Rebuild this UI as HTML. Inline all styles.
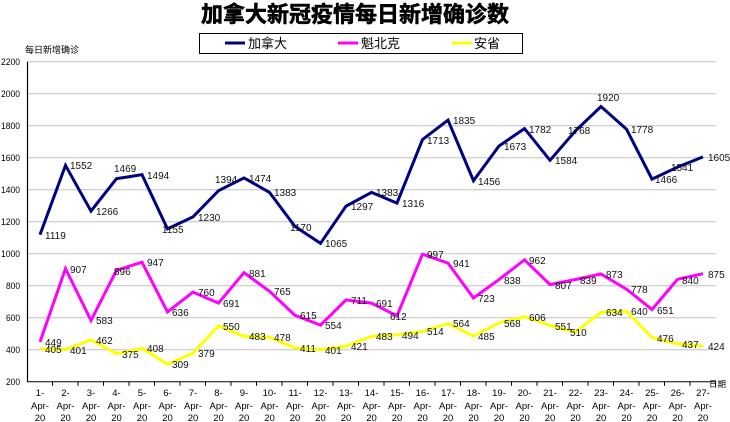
<!DOCTYPE html>
<html><head><meta charset="utf-8"><style>
html,body{margin:0;padding:0;background:#fff;}
svg{display:block;font-family:"Liberation Sans","Noto Sans CJK SC",sans-serif;}
</style></head><body>
<svg width="730" height="422" viewBox="0 0 730 422" xmlns="http://www.w3.org/2000/svg">
<text x="355" y="22" text-anchor="middle" font-size="22" font-weight="bold" stroke="#000" stroke-width="0.6" font-family="'Liberation Sans','Noto Sans CJK SC',sans-serif">加拿大新冠疫情每日新增确诊数</text>
<rect x="199.5" y="33.5" width="323" height="20" fill="#fff" stroke="#000" stroke-width="1"/>
<line x1="225" y1="43" x2="245" y2="43" stroke="#000080" stroke-width="3"/>
<text x="248" y="48" font-size="13">加拿大</text>
<line x1="338" y1="43" x2="358" y2="43" stroke="#ff00ff" stroke-width="3"/>
<text x="361" y="48" font-size="13">魁北克</text>
<line x1="452" y1="43" x2="472" y2="43" stroke="#ffff00" stroke-width="3"/>
<text x="474" y="48" font-size="13">安省</text>
<text x="25" y="53" font-size="9">每日新增确诊</text>
<g stroke="#c0c0c0" stroke-width="1">
<line x1="27" y1="61.7" x2="715.5" y2="61.7"/><line x1="27" y1="93.7" x2="715.5" y2="93.7"/><line x1="27" y1="125.7" x2="715.5" y2="125.7"/><line x1="27" y1="157.7" x2="715.5" y2="157.7"/><line x1="27" y1="189.7" x2="715.5" y2="189.7"/><line x1="27" y1="221.7" x2="715.5" y2="221.7"/><line x1="27" y1="253.7" x2="715.5" y2="253.7"/><line x1="27" y1="285.7" x2="715.5" y2="285.7"/><line x1="27" y1="317.7" x2="715.5" y2="317.7"/><line x1="27" y1="349.7" x2="715.5" y2="349.7"/>
</g>
<g font-size="9.5">
<text x="1" y="65" textLength="19" lengthAdjust="spacingAndGlyphs">2200</text><text x="1" y="97" textLength="19" lengthAdjust="spacingAndGlyphs">2000</text><text x="1" y="129" textLength="19" lengthAdjust="spacingAndGlyphs">1800</text><text x="1" y="161" textLength="19" lengthAdjust="spacingAndGlyphs">1600</text><text x="1" y="193" textLength="19" lengthAdjust="spacingAndGlyphs">1400</text><text x="1" y="225" textLength="19" lengthAdjust="spacingAndGlyphs">1200</text><text x="1" y="257" textLength="19" lengthAdjust="spacingAndGlyphs">1000</text><text x="6" y="289" textLength="14" lengthAdjust="spacingAndGlyphs">800</text><text x="6" y="321" textLength="14" lengthAdjust="spacingAndGlyphs">600</text><text x="6" y="353" textLength="14" lengthAdjust="spacingAndGlyphs">400</text><text x="6" y="385" textLength="14" lengthAdjust="spacingAndGlyphs">200</text>
</g>
<line x1="27.5" y1="61.7" x2="27.5" y2="382" stroke="#000" stroke-width="1.2"/>
<line x1="27" y1="381.7" x2="715.5" y2="381.7" stroke="#000" stroke-width="1"/>
<path stroke="#000" stroke-width="1" d="M52.5 381.7v4M78 381.7v4M103.5 381.7v4M129 381.7v4M154.5 381.7v4M180 381.7v4M205.5 381.7v4M231 381.7v4M256.5 381.7v4M282 381.7v4M307.5 381.7v4M333 381.7v4M358.5 381.7v4M384 381.7v4M409.5 381.7v4M435 381.7v4M460.5 381.7v4M486 381.7v4M511.5 381.7v4M537 381.7v4M562.5 381.7v4M588 381.7v4M613.5 381.7v4M639 381.7v4M664.5 381.7v4M690 381.7v4M715.5 381.7v4"/>
<text x="709" y="387" font-size="8.5">日期</text>
<g font-size="9.5" text-anchor="middle">
<text x="40" y="396">1-</text><text x="40" y="409">Apr-</text><text x="40" y="421">20</text>
<text x="65.5" y="396">2-</text><text x="65.5" y="409">Apr-</text><text x="65.5" y="421">20</text>
<text x="91" y="396">3-</text><text x="91" y="409">Apr-</text><text x="91" y="421">20</text>
<text x="116.5" y="396">4-</text><text x="116.5" y="409">Apr-</text><text x="116.5" y="421">20</text>
<text x="142" y="396">5-</text><text x="142" y="409">Apr-</text><text x="142" y="421">20</text>
<text x="167.5" y="396">6-</text><text x="167.5" y="409">Apr-</text><text x="167.5" y="421">20</text>
<text x="193" y="396">7-</text><text x="193" y="409">Apr-</text><text x="193" y="421">20</text>
<text x="218.5" y="396">8-</text><text x="218.5" y="409">Apr-</text><text x="218.5" y="421">20</text>
<text x="244" y="396">9-</text><text x="244" y="409">Apr-</text><text x="244" y="421">20</text>
<text x="269.5" y="396">10-</text><text x="269.5" y="409">Apr-</text><text x="269.5" y="421">20</text>
<text x="295" y="396">11-</text><text x="295" y="409">Apr-</text><text x="295" y="421">20</text>
<text x="320.5" y="396">12-</text><text x="320.5" y="409">Apr-</text><text x="320.5" y="421">20</text>
<text x="346" y="396">13-</text><text x="346" y="409">Apr-</text><text x="346" y="421">20</text>
<text x="371.5" y="396">14-</text><text x="371.5" y="409">Apr-</text><text x="371.5" y="421">20</text>
<text x="397" y="396">15-</text><text x="397" y="409">Apr-</text><text x="397" y="421">20</text>
<text x="422.5" y="396">16-</text><text x="422.5" y="409">Apr-</text><text x="422.5" y="421">20</text>
<text x="448" y="396">17-</text><text x="448" y="409">Apr-</text><text x="448" y="421">20</text>
<text x="473.5" y="396">18-</text><text x="473.5" y="409">Apr-</text><text x="473.5" y="421">20</text>
<text x="499" y="396">19-</text><text x="499" y="409">Apr-</text><text x="499" y="421">20</text>
<text x="524.5" y="396">20-</text><text x="524.5" y="409">Apr-</text><text x="524.5" y="421">20</text>
<text x="550" y="396">21-</text><text x="550" y="409">Apr-</text><text x="550" y="421">20</text>
<text x="575.5" y="396">22-</text><text x="575.5" y="409">Apr-</text><text x="575.5" y="421">20</text>
<text x="601" y="396">23-</text><text x="601" y="409">Apr-</text><text x="601" y="421">20</text>
<text x="626.5" y="396">24-</text><text x="626.5" y="409">Apr-</text><text x="626.5" y="421">20</text>
<text x="652" y="396">25-</text><text x="652" y="409">Apr-</text><text x="652" y="421">20</text>
<text x="677.5" y="396">26-</text><text x="677.5" y="409">Apr-</text><text x="677.5" y="421">20</text>
<text x="703" y="396">27-</text><text x="703" y="409">Apr-</text><text x="703" y="421">20</text>
</g>
<g fill="none" stroke-width="3" stroke-linejoin="miter">
<polyline stroke="#000080" points="40,234.7 65.5,165.4 91,211.1 116.5,178.7 142,174.7 167.5,228.9 193,216.9 218.5,190.7 244,177.9 269.5,192.4 295,226.5 320.5,243.3 346,206.2 371.5,192.4 397,203.1 422.5,139.6 448,120.1 473.5,180.7 499,146 524.5,128.6 550,160.3 575.5,130.8 601,106.5 626.5,129.2 652,179.1 677.5,167.1 703,156.9"/>
<polyline stroke="#ff00ff" points="40,341.9 65.5,268.6 91,320.4 116.5,270.3 142,262.2 167.5,311.9 193,292.1 218.5,303.1 244,272.7 269.5,291.3 295,315.3 320.5,325.1 346,299.9 371.5,303.1 397,315.8 422.5,254.2 448,263.1 473.5,298 499,279.6 524.5,259.8 550,284.6 575.5,279.5 601,274 626.5,289.2 652,309.5 677.5,279.3 703,273.7"/>
<polyline stroke="#ffff00" points="40,348.9 65.5,349.5 91,339.8 116.5,353.7 142,348.4 167.5,364.3 193,353.1 218.5,325.7 244,336.4 269.5,337.2 295,347.9 320.5,349.5 346,346.3 371.5,336.4 397,334.7 422.5,331.5 448,323.5 473.5,336.1 499,322.8 524.5,316.7 550,325.5 575.5,332.1 601,312.3 626.5,311.3 652,337.5 677.5,343.8 703,345.9"/>
</g>
<g font-size="10" fill="#111">
<text x="45" y="239">1119</text><text x="70" y="169">1552</text><text x="96" y="215">1266</text><text x="114" y="172">1469</text><text x="147" y="179">1494</text><text x="162" y="233">1155</text><text x="198" y="221">1230</text><text x="215" y="183">1394</text><text x="249" y="182">1474</text><text x="274" y="196">1383</text><text x="290" y="231">1170</text><text x="325" y="247">1065</text><text x="351" y="210">1297</text><text x="376" y="196">1383</text><text x="402" y="207">1316</text><text x="427" y="144">1713</text><text x="453" y="124">1835</text><text x="478" y="185">1456</text><text x="504" y="150">1673</text><text x="529" y="133">1782</text><text x="555" y="164">1584</text><text x="568" y="134">1768</text><text x="597" y="101">1920</text><text x="631" y="133">1778</text><text x="655" y="183">1466</text><text x="671" y="171">1541</text><text x="708" y="161">1605</text>
<text x="45" y="346">449</text><text x="70" y="273">907</text><text x="96" y="324">583</text><text x="114" y="275">896</text><text x="147" y="266">947</text><text x="172" y="316">636</text><text x="198" y="296">760</text><text x="223" y="307">691</text><text x="249" y="277">881</text><text x="274" y="295">765</text><text x="300" y="319">615</text><text x="325" y="329">554</text><text x="351" y="304">711</text><text x="376" y="307">691</text><text x="390" y="320">612</text><text x="427" y="258">997</text><text x="453" y="267">941</text><text x="478" y="302">723</text><text x="504" y="284">838</text><text x="529" y="264">962</text><text x="555" y="289">807</text><text x="580" y="284">839</text><text x="606" y="278">873</text><text x="631" y="293">778</text><text x="657" y="314">651</text><text x="682" y="284">840</text><text x="708" y="278">875</text>
<text x="45" y="353">405</text><text x="70" y="354">401</text><text x="96" y="344">462</text><text x="122" y="358">375</text><text x="147" y="352">408</text><text x="172" y="368">309</text><text x="198" y="357">379</text><text x="223" y="330">550</text><text x="249" y="340">483</text><text x="274" y="341">478</text><text x="300" y="352">411</text><text x="325" y="354">401</text><text x="351" y="350">421</text><text x="376" y="340">483</text><text x="402" y="339">494</text><text x="427" y="335">514</text><text x="453" y="327">564</text><text x="478" y="340">485</text><text x="504" y="327">568</text><text x="529" y="321">606</text><text x="555" y="330">551</text><text x="570" y="336">510</text><text x="606" y="316">634</text><text x="631" y="315">640</text><text x="657" y="342">476</text><text x="682" y="348">437</text><text x="708" y="350">424</text>
</g>
</svg>
</body></html>
